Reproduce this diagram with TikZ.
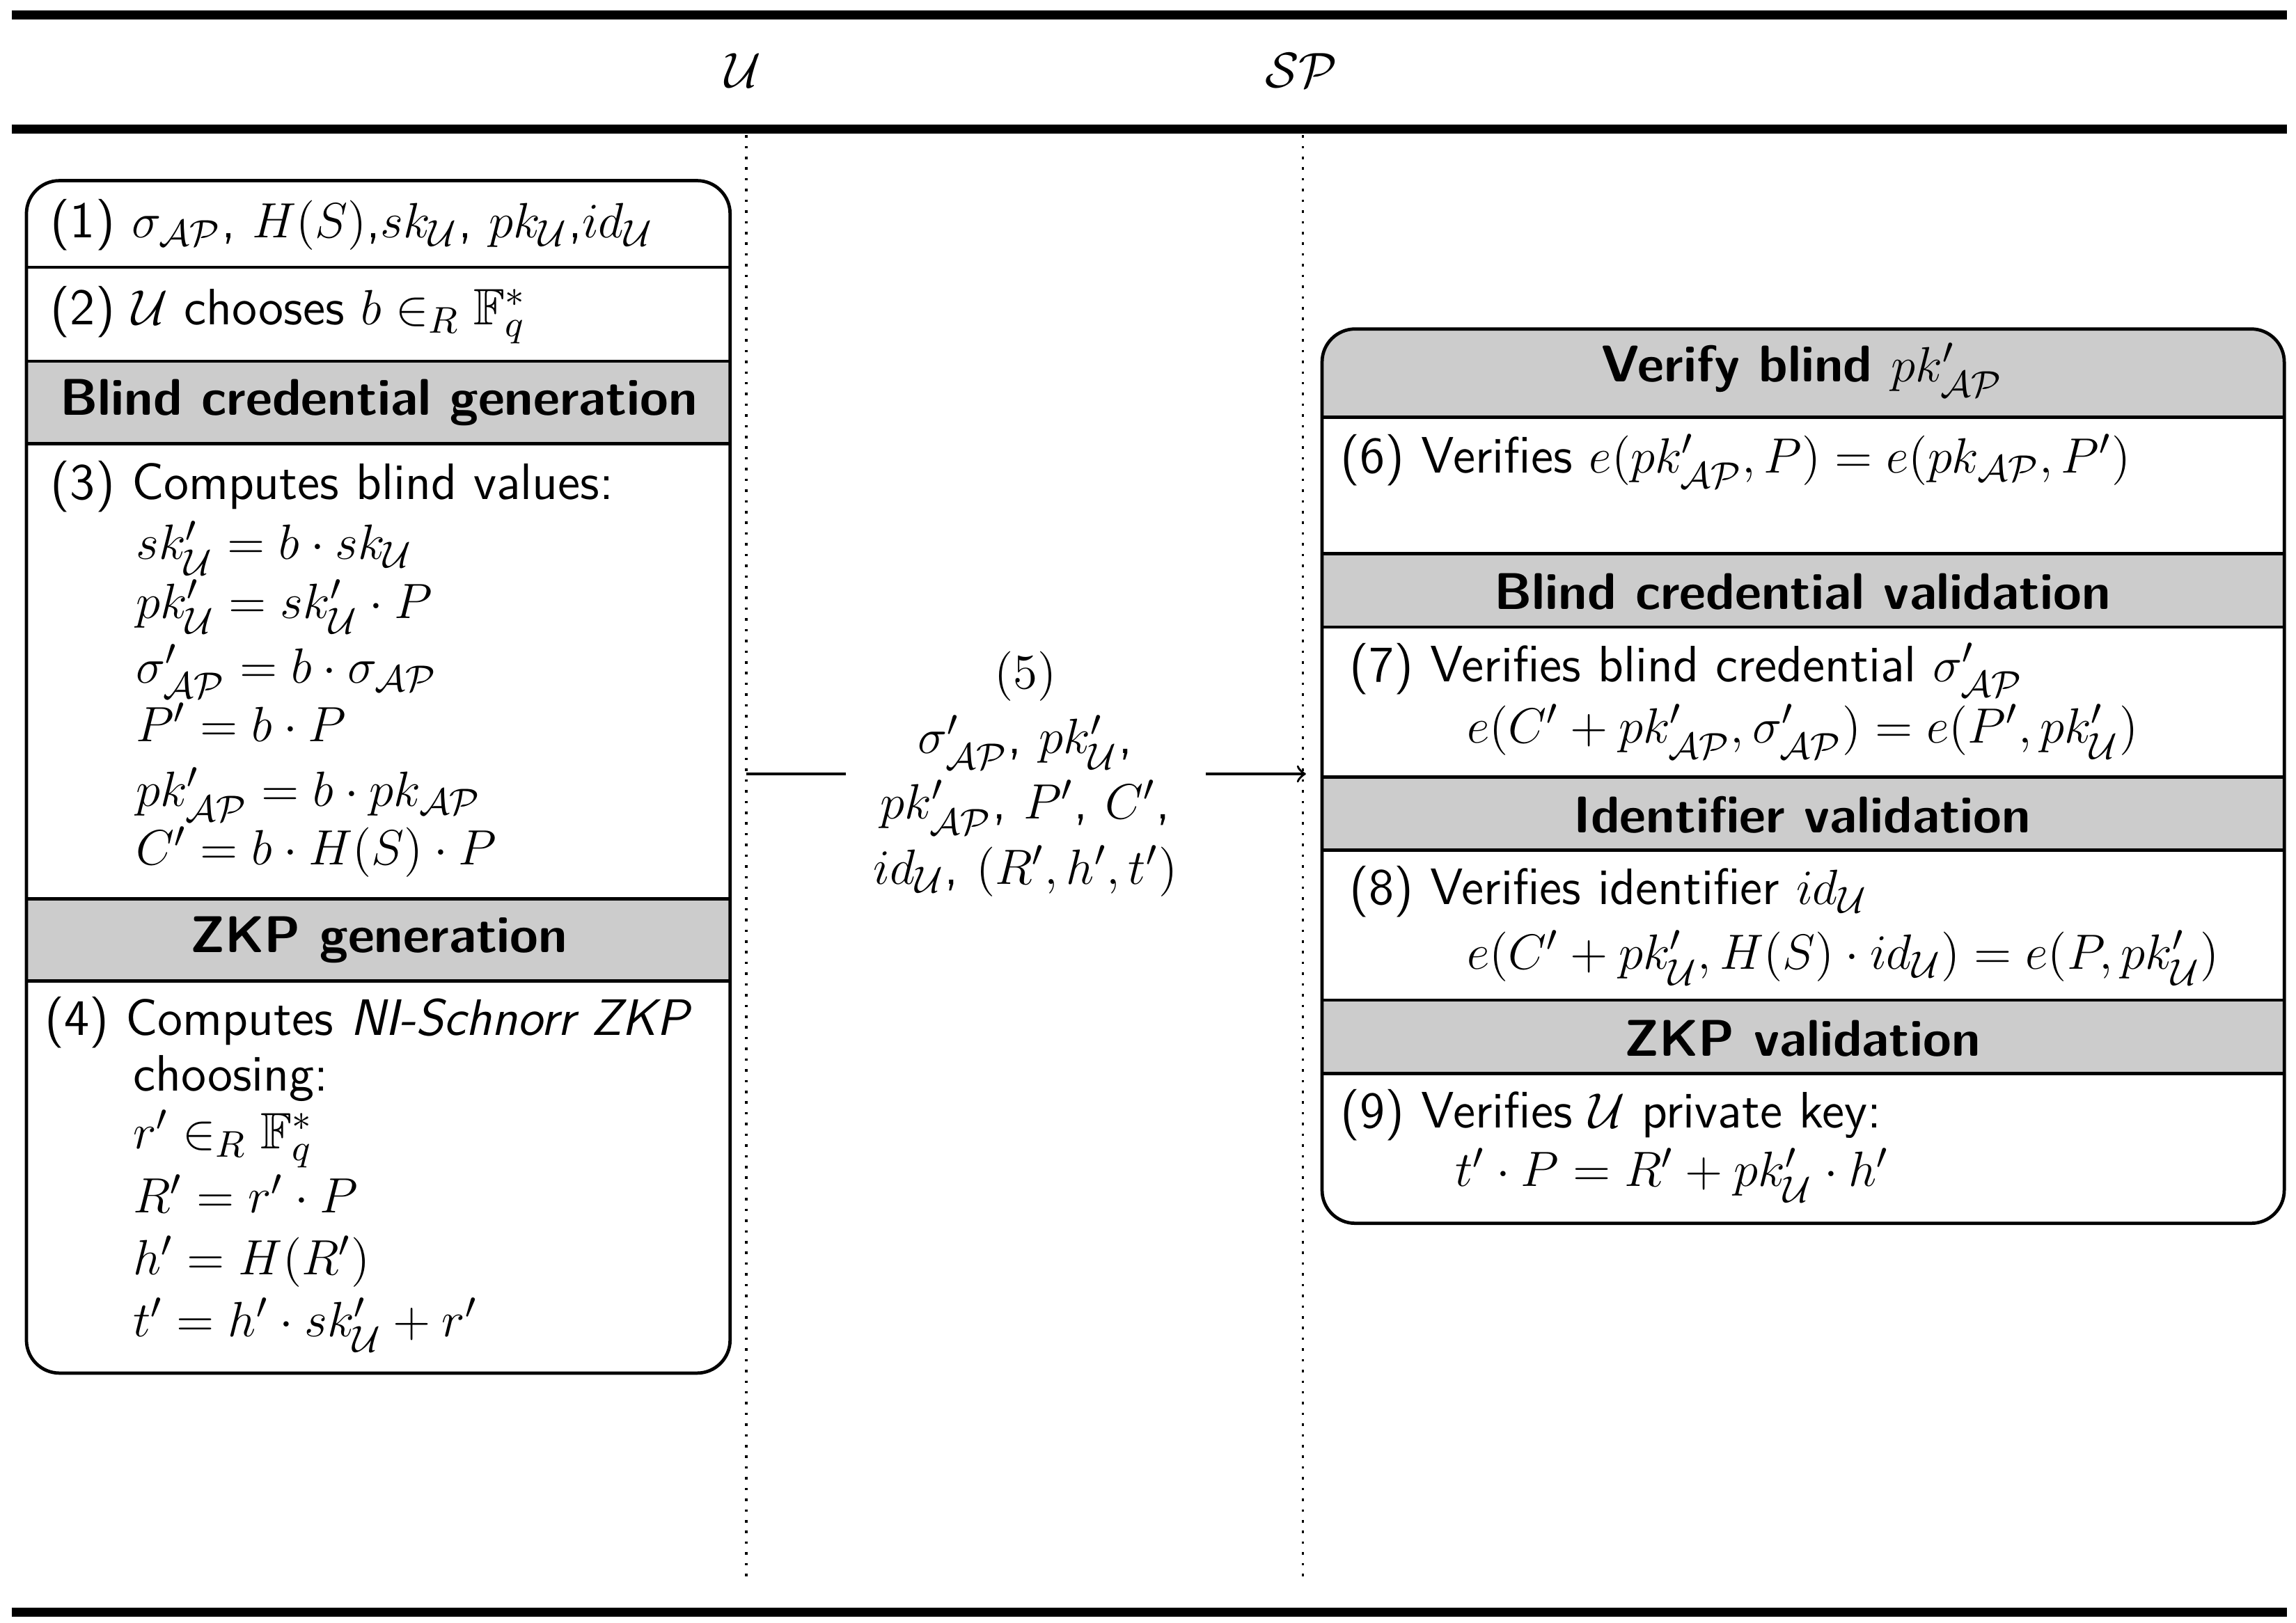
\documentclass[tikz,border=0pt]{standalone}
\usepackage{amssymb}
\begin{document}
\sffamily\fontsize{12.4}{15}\selectfont
\begin{tikzpicture}[x=0.125mm,y=-0.125mm,
  rule/.style={line width=2.2pt},
  box/.style={draw=black,line width=0.8pt,rounded corners=8pt},
  hd/.style={font=\bfseries\fontsize{12.5}{15}\selectfont,anchor=center},
  tx/.style={anchor=base west,inner sep=0pt}]
\useasboundingbox (0,0) rectangle (1563,1105);
\draw[rule] (8,10) -- (1557,10);
\draw[rule] (8,88) -- (1557,88);
\draw[rule] (8,1098) -- (1557,1098);
\node (U) at (506,48) {$\mathcal{U}$};
\node (SP) at (886,48) {$\mathcal{SP}$};
\draw[dotted,line width=0.6pt] (508,92) -- (508,1075);
\draw[dotted,line width=0.6pt] (887,92) -- (887,1075);
% left box
\fill[black!20] (18,246) rectangle (497,302);
\fill[black!20] (18,612) rectangle (497,668);
\draw[box] (18,123) rectangle (497,935);
\foreach \y in {182,246,302,612,668} \draw[line width=0.8pt] (18,\y) -- (497,\y);
\node[tx] at (34,162) {(1) $\sigma_{\mathcal{AP}}$, $H(S)$,$sk_{\mathcal{U}}$, $pk_{\mathcal{U}}$,$id_{\mathcal{U}}$};
\node[tx] at (34,221) {(2) $\mathcal{U}$ chooses $b\in_R \mathbb{F}_q^*$};
\node[hd] at (258,274) {Blind credential generation};
\node[tx] at (34,340) {(3) Computes blind values:};
\node[tx] at (92,381) {$sk'_{\mathcal{U}}=b\cdot sk_{\mathcal{U}}$};
\node[tx] at (92,421) {$pk'_{\mathcal{U}}=sk'_{\mathcal{U}}\cdot P$};
\node[tx] at (92,465) {$\sigma'_{\mathcal{AP}}=b\cdot \sigma_{\mathcal{AP}}$};
\node[tx] at (92,505) {$P'=b\cdot P$};
\node[tx] at (92,549) {$pk'_{\mathcal{AP}}=b\cdot pk_{\mathcal{AP}}$};
\node[tx] at (92,589) {$C'=b\cdot H(S)\cdot P$};
\node[hd] at (258,640) {ZKP generation};
\node[tx] at (30,705) {(4) Computes \textit{NI-Schnorr ZKP}};
\node[tx] at (90,743) {choosing:};
\node[tx] at (90,782) {$r'\in_R \mathbb{F}_q^*$};
\node[tx] at (90,826) {$R'=r'\cdot P$};
\node[tx] at (90,868) {$h'=H(R')$};
\node[tx] at (90,910) {$t'=h'\cdot sk'_{\mathcal{U}}+r'$};
% message
\coordinate (a1) at (508,527); \coordinate (a2) at (576,527);
\coordinate (a3) at (821,527); \coordinate (a4) at (889,527);
\draw[line width=0.6pt] (a1) -- (a2);
\draw[line width=0.6pt,->] (a3) -- (a4);
\node (m) at (698,527) [align=center,font=\fontsize{12.7}{15.8}\selectfont] {$(5)$\\ $\sigma'_{\mathcal{AP}}$, $pk'_{\mathcal{U}}$,\\ $pk'_{\mathcal{AP}}$, $P'$, $C'$,\\ $id_{\mathcal{U}}$, $(R',h',t')$};
% right box
\fill[black!20,rounded corners=8pt] (900,224) rectangle (1555,284);
\fill[black!20] (900,260) rectangle (1555,284);
\fill[black!20] (900,377) rectangle (1555,427);
\fill[black!20] (900,529) rectangle (1555,579);
\fill[black!20] (900,681) rectangle (1555,731);
\draw[box] (900,224) rectangle (1555,833);
\foreach \y in {284,377,427,529,579,681,731} \draw[line width=0.8pt] (900,\y) -- (1555,\y);
\node[hd] at (1227,252) {Verify blind \mdseries$pk'_{\mathcal{AP}}$};
\node[tx] at (912,322) {(6) Verifies $e(pk'_{\mathcal{AP}},P)=e(pk_{\mathcal{AP}},P')$};
\node[hd] at (1227,403) {Blind credential validation};
\node[tx] at (918,464) {(7) Verifies blind credential $\sigma'_{\mathcal{AP}}$};
\node[tx] at (998,506) {$e(C'+pk'_{\mathcal{AP}},\sigma'_{\mathcal{AP}})=e(P',pk'_{\mathcal{U}})$};
\node[hd] at (1227,555) {Identifier validation};
\node[tx] at (918,616) {(8) Verifies identifier $id_{\mathcal{U}}$};
\node[tx] at (998,660) {$e(C'+pk'_{\mathcal{U}},H(S)\cdot id_{\mathcal{U}})=e(P,pk'_{\mathcal{U}})$};
\node[hd] at (1227,707) {ZKP validation};
\node[tx] at (912,768) {(9) Verifies $\mathcal{U}$ private key:};
\node[tx] at (990,808) {$t'\cdot P=R'+pk'_{\mathcal{U}}\cdot h'$};
\end{tikzpicture}
\end{document}
